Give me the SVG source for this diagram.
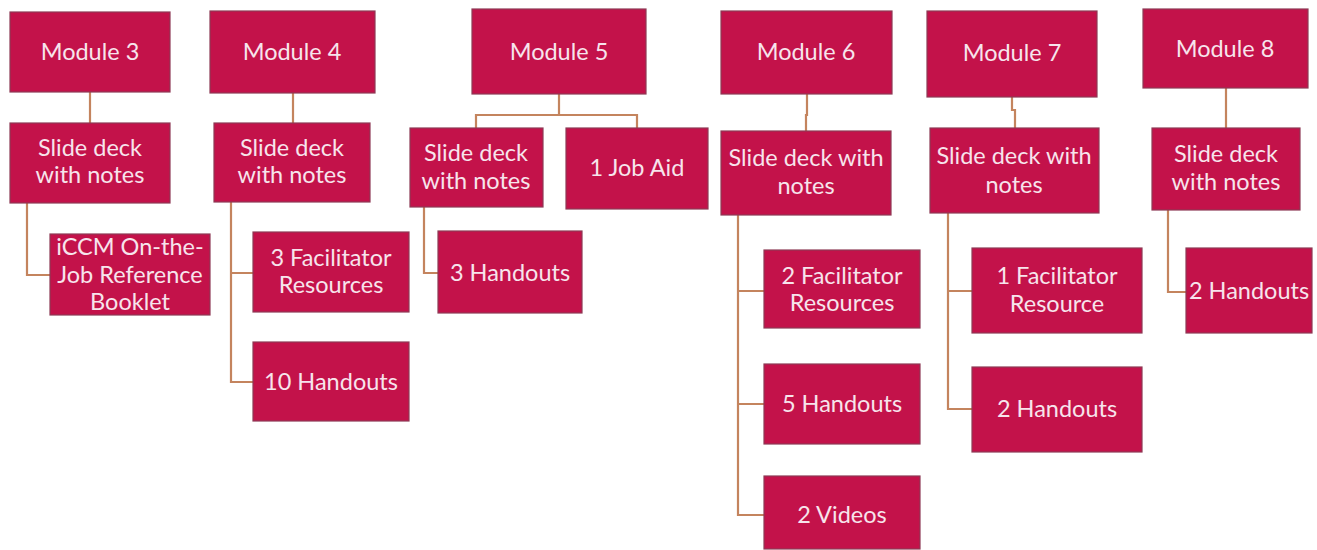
<svg xmlns="http://www.w3.org/2000/svg" width="1317" height="550" viewBox="0 0 1317 550">
<style>
.box{fill:#C3124A;stroke:#8E3A55;stroke-width:1.2}
.t{font-family:Lato,"Liberation Sans",sans-serif;font-size:23.5px;fill:#F7E4EC;text-anchor:middle}
.c{fill:none;stroke:#C4845E;stroke-width:2.2}
</style>
<rect width="1317" height="550" fill="#ffffff"/>
<g id="connectors">
<path class="c" d="M90 92V123"/>
<path class="c" d="M27 203V275H50"/>
<path class="c" d="M293 93V123"/>
<path class="c" d="M231 202V382H253M231 273H253"/>
<path class="c" d="M559 94V115M476 128V115H637V128"/>
<path class="c" d="M424 207V273H438"/>
<path class="c" d="M807 94V115H806V131"/>
<path class="c" d="M738 215V515H764M738 291H764M738 404H764"/>
<path class="c" d="M1012 97V110H1015V128"/>
<path class="c" d="M948 213V409H972M948 291H972"/>
<path class="c" d="M1226 88V128"/>
<path class="c" d="M1168 210V292H1186"/>
</g>
<g id="m3"><rect class="box" x="10" y="12" width="160" height="80"/><text class="t" x="90" y="60">Module 3</text></g>
<g id="m3s"><rect class="box" x="10" y="123" width="160" height="80"/><text class="t" x="90" y="156">Slide deck</text><text class="t" x="90" y="183">with notes</text></g>
<g id="m3a"><rect class="box" x="50" y="234" width="160" height="81"/><text class="t" x="130" y="255">iCCM On-the-</text><text class="t" x="130" y="283">Job Reference</text><text class="t" x="130" y="310">Booklet</text></g>
<g id="m4"><rect class="box" x="210" y="11" width="165" height="82"/><text class="t" x="292" y="60">Module 4</text></g>
<g id="m4s"><rect class="box" x="214" y="123" width="156" height="79"/><text class="t" x="292" y="156">Slide deck</text><text class="t" x="292" y="183">with notes</text></g>
<g id="m4a"><rect class="box" x="253" y="232" width="156" height="80"/><text class="t" x="331" y="266">3 Facilitator</text><text class="t" x="331" y="293">Resources</text></g>
<g id="m4b"><rect class="box" x="253" y="342" width="156" height="79"/><text class="t" x="331" y="390">10 Handouts</text></g>
<g id="m5"><rect class="box" x="472" y="9" width="174" height="85"/><text class="t" x="559" y="60">Module 5</text></g>
<g id="m5s"><rect class="box" x="410" y="128" width="133" height="79"/><text class="t" x="476" y="161">Slide deck</text><text class="t" x="476" y="189">with notes</text></g>
<g id="m5j"><rect class="box" x="566" y="128" width="142" height="81"/><text class="t" x="637" y="176">1 Job Aid</text></g>
<g id="m5a"><rect class="box" x="438" y="231" width="144" height="82"/><text class="t" x="510" y="281">3 Handouts</text></g>
<g id="m6"><rect class="box" x="721" y="11" width="171" height="83"/><text class="t" x="806" y="60">Module 6</text></g>
<g id="m6s"><rect class="box" x="721" y="131" width="170" height="84"/><text class="t" x="806" y="166">Slide deck with</text><text class="t" x="806" y="194">notes</text></g>
<g id="m6a"><rect class="box" x="764" y="250" width="156" height="78"/><text class="t" x="842" y="284">2 Facilitator</text><text class="t" x="842" y="311">Resources</text></g>
<g id="m6b"><rect class="box" x="764" y="364" width="156" height="80"/><text class="t" x="842" y="412">5 Handouts</text></g>
<g id="m6c"><rect class="box" x="764" y="476" width="156" height="73"/><text class="t" x="842" y="523">2 Videos</text></g>
<g id="m7"><rect class="box" x="927" y="11" width="170" height="86"/><text class="t" x="1012" y="61">Module 7</text></g>
<g id="m7s"><rect class="box" x="930" y="128" width="169" height="85"/><text class="t" x="1014" y="164">Slide deck with</text><text class="t" x="1014" y="193">notes</text></g>
<g id="m7a"><rect class="box" x="972" y="248" width="170" height="85"/><text class="t" x="1057" y="284">1 Facilitator</text><text class="t" x="1057" y="312">Resource</text></g>
<g id="m7b"><rect class="box" x="972" y="367" width="170" height="85"/><text class="t" x="1057" y="417">2 Handouts</text></g>
<g id="m8"><rect class="box" x="1143" y="9" width="165" height="79"/><text class="t" x="1225" y="57">Module 8</text></g>
<g id="m8s"><rect class="box" x="1152" y="128" width="148" height="82"/><text class="t" x="1226" y="162">Slide deck</text><text class="t" x="1226" y="190">with notes</text></g>
<g id="m8a"><rect class="box" x="1186" y="248" width="126" height="85"/><text class="t" x="1249" y="299">2 Handouts</text></g>
</svg>
